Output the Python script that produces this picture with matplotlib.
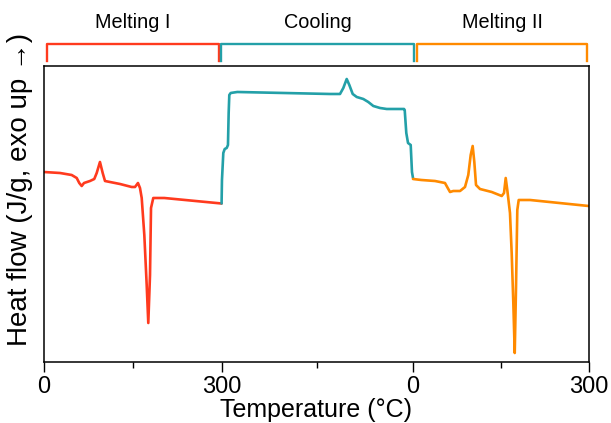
import matplotlib.pyplot as plt
from matplotlib.ticker import FixedLocator

plt.rcParams['font.family'] = ['Liberation Sans', 'DejaVu Sans']

# Melting I (heating 0 -> 300 C)
melt1_T = [0, 27.5, 47.2, 55.7, 60.0, 64.1, 68.0, 78.1, 85.3, 89.4, 94.9, 99.5,
           103.4, 111.8, 128.7, 148.4, 154.0, 159.0, 162.4, 165.3, 169.7, 173.7,
           176.4, 179.3, 181.0, 184.8, 203.4, 300]
melt1_hf = [1.89, 1.88, 1.86, 1.83, 1.78, 1.75, 1.78, 1.80, 1.82, 1.88, 1.99, 1.88,
            1.80, 1.79, 1.77, 1.74, 1.74, 1.78, 1.73, 1.63, 1.26, 0.76,
            0.38, 0.86, 1.53, 1.63, 1.63, 1.575]

# Cooling (300 -> 0 C)
cool_T = [300, 299.4, 297.3, 295.1, 292.0, 290.0, 288.9, 287.9, 285.7, 275.4,
          130.1, 114.4, 109.2, 103.9, 99.8, 94.5, 88.2, 77.9, 70.1, 62.2, 51.7,
          41.2, 14.1, 13.0, 10.5, 7.8, 3.6, 1.6, 0]
cool_hf = [1.575, 1.81, 2.08, 2.12, 2.13, 2.16, 2.48, 2.66, 2.68, 2.69,
           2.67, 2.67, 2.73, 2.82, 2.76, 2.67, 2.64, 2.62, 2.59, 2.55, 2.53,
           2.52, 2.52, 2.51, 2.28, 2.18, 2.16, 1.89, 1.83]

# Melting II (heating 0 -> 300 C)
melt2_T = [0, 14.2, 37.6, 54.6, 59.3, 63.2, 68.8, 80.3, 88.8, 94.4, 98.5, 101.9,
           104.7, 107.6, 114.4, 134.4, 151.5, 155.4, 158.3, 161.0, 165.6, 168.5,
           171.3, 173.7, 175.9, 178.1, 180.5, 199.8, 300]
melt2_hf = [1.82, 1.81, 1.80, 1.78, 1.73, 1.69, 1.70, 1.70, 1.74, 1.86, 2.06, 2.15,
            1.99, 1.76, 1.72, 1.69, 1.65, 1.68, 1.83, 1.71, 1.48, 1.08,
            0.58, 0.08, 0.74, 1.51, 1.61, 1.61, 1.55]

segment_names = ['Melting I', 'Cooling', 'Melting II']
colors = ['#FF3A1E', '#23A0A8', '#FF8A00']
tick_labels = ['0', '300', '0', '300']

# x positions of segment boundaries on the joined axis
edges = [0, 300, 622.8, 919.1]


def to_x(T, seg):
    width = edges[seg + 1] - edges[seg]
    if seg == 1:
        return [edges[seg] + (300 - t) * width / 300 for t in T]
    return [edges[seg] + t * width / 300 for t in T]


fig = plt.figure(figsize=(6.11, 4.23), dpi=100)
ax = fig.add_axes([0.0715, 0.1437, 0.892, 0.6996])

series = [(melt1_T, melt1_hf), (cool_T, cool_hf), (melt2_T, melt2_hf)]
for i, (T, hf) in enumerate(series):
    ax.plot(to_x(T, i), hf, color=colors[i], lw=1.9,
            solid_joinstyle='round', solid_capstyle='round')

ax.set_xlim(edges[0], edges[-1])
ax.set_ylim(-0.012, 2.947)
ax.set_xticks(edges)
ax.set_xticklabels(tick_labels, fontsize=17)
mids = [(edges[i] + edges[i + 1]) / 2 for i in range(3)]
ax.xaxis.set_minor_locator(FixedLocator(mids))
ax.tick_params(axis='x', which='major', length=7, width=1, pad=3)
ax.tick_params(axis='x', which='minor', length=4.5, width=1)
ax.set_yticks([])
for s in ax.spines.values():
    s.set_linewidth(1.1)

ax.set_xlabel('Temperature (°C)', fontsize=18, labelpad=0)
ax.set_ylabel('Heat flow (J/g, exo up →)', fontsize=20)
ax.yaxis.set_label_coords(-0.02, 0.585)

# segment brackets above the plot
spans = [(6, 295), (299.5, 625), (629, 917)]
trans = ax.get_xaxis_transform()
for (x0, x1), name, c in zip(spans, segment_names, colors):
    ax.plot([x0, x0, x1, x1], [1.017, 1.075, 1.075, 1.017], color=c, lw=1.7,
            transform=trans, clip_on=False)
    ax.text((x0 + x1) / 2, 1.13, name, transform=trans, ha='center',
            va='baseline', fontsize=14.3)

fig.savefig('out.png', dpi=100)
